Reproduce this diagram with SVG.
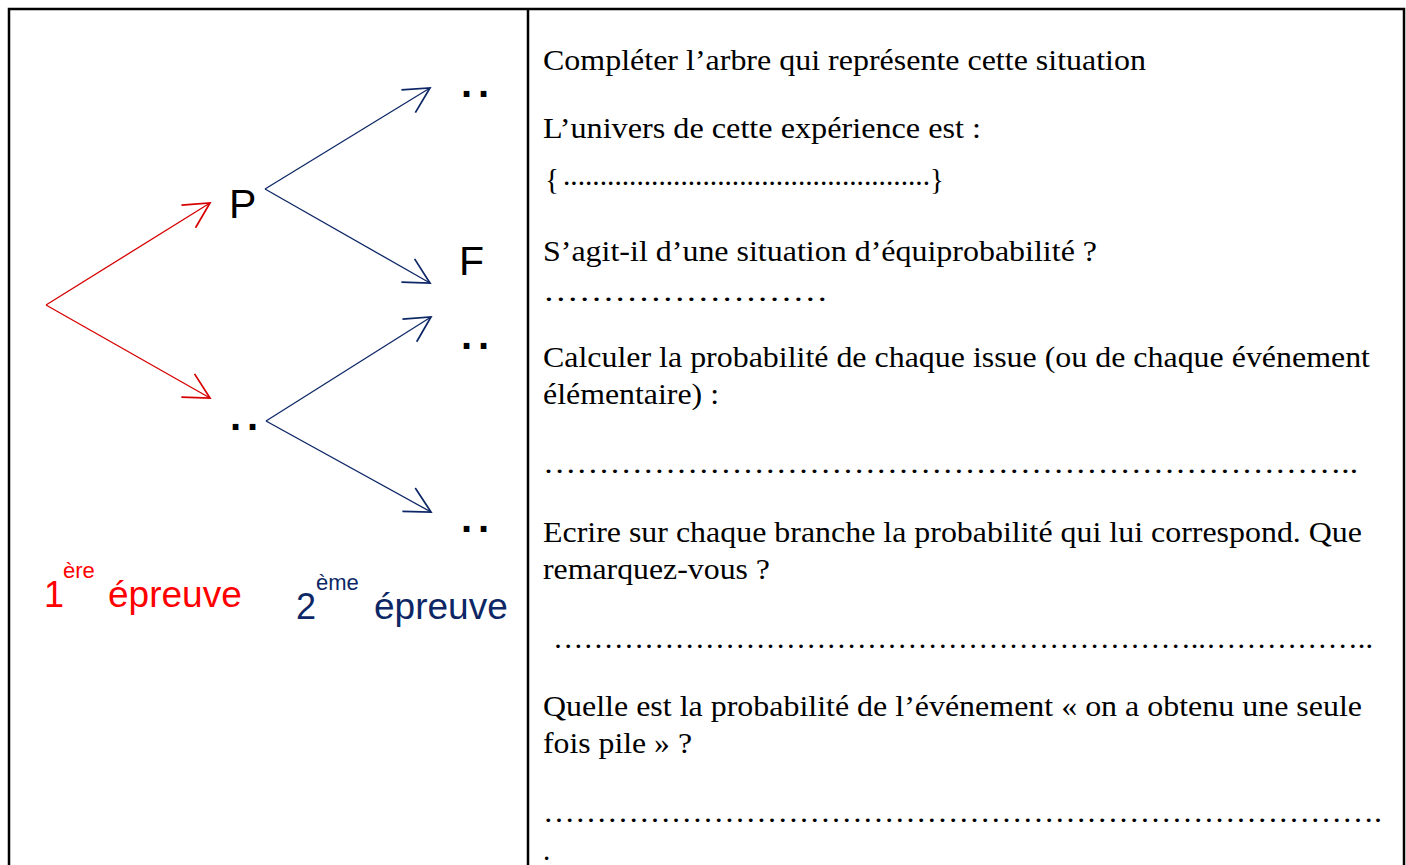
<svg xmlns="http://www.w3.org/2000/svg" width="1406" height="865" viewBox="0 0 1406 865">
<style>
.q{font-family:"Liberation Serif","Times New Roman",serif;font-size:29px;fill:#000}
.lbl{font-family:"Liberation Sans",Arial,sans-serif;font-size:41px;fill:#000}
.dd{font-family:"Liberation Sans",Arial,sans-serif;font-size:40px;font-weight:bold;fill:#000;letter-spacing:6px}
.red{font-family:"Liberation Sans",Arial,sans-serif;fill:#ff0000}
.blue{font-family:"Liberation Sans",Arial,sans-serif;fill:#0d2766}
.lr{stroke:#d60000;stroke-width:1.3;fill:none}
.lb{stroke:#0d2766;stroke-width:1.3;fill:none}
</style>
<defs>
<marker id="ar" markerUnits="userSpaceOnUse" orient="auto" refX="0" refY="0" markerWidth="40" markerHeight="40" viewBox="-25 -15 30 30" overflow="visible">
<path d="M-19,-10 L0,0 L-19,10" fill="none" stroke="#d60000" stroke-width="1.3"/>
</marker>
<marker id="ab" markerUnits="userSpaceOnUse" orient="auto" refX="0" refY="0" markerWidth="40" markerHeight="40" viewBox="-25 -15 30 30" overflow="visible">
<path d="M-19,-10 L0,0 L-19,10" fill="none" stroke="#0d2766" stroke-width="1.3"/>
</marker>
</defs>
<rect x="0" y="0" width="1406" height="865" fill="#fff"/>
<g id="frame" fill="none" stroke="#000" stroke-width="2.5">
<rect x="9" y="9" width="1395" height="900"/>
<line x1="528" y1="9" x2="528" y2="865"/>
</g>
<g id="connectors">
<line class="lr" x1="46" y1="305" x2="210" y2="203" marker-end="url(#ar)"/>
<line class="lr" x1="46" y1="305" x2="210" y2="398" marker-end="url(#ar)"/>
<line class="lb" x1="265" y1="189" x2="430" y2="88" marker-end="url(#ab)"/>
<line class="lb" x1="265" y1="189" x2="430" y2="283" marker-end="url(#ab)"/>
<line class="lb" x1="266" y1="421" x2="431" y2="317" marker-end="url(#ab)"/>
<line class="lb" x1="266" y1="421" x2="431" y2="512" marker-end="url(#ab)"/>
</g>
<g id="node-P"><text class="lbl" x="229" y="218">P</text></g>
<g id="node-n1"><text class="dd" x="230" y="430">..</text></g>
<g id="node-n2"><text class="dd" x="461" y="97">..</text></g>
<g id="node-F"><text class="lbl" x="459" y="275">F</text></g>
<g id="node-n3"><text class="dd" x="461" y="349">..</text></g>
<g id="node-n4"><text class="dd" x="461" y="532">..</text></g>
<g id="label-1">
<text class="red" x="44" y="607" font-size="36">1</text>
<text class="red" x="63" y="578" font-size="22">ère</text>
<text class="red" x="108" y="607" font-size="37">épreuve</text>
</g>
<g id="label-2">
<text class="blue" x="296" y="619" font-size="36">2</text>
<text class="blue" x="316" y="590" font-size="22">ème</text>
<text class="blue" x="374" y="619" font-size="37">épreuve</text>
</g>
<g id="questions">
<text class="q" x="543" y="70" textLength="603" lengthAdjust="spacingAndGlyphs">Compléter l’arbre qui représente cette situation</text>
<text class="q" x="543" y="138" textLength="438" lengthAdjust="spacingAndGlyphs">L’univers de cette expérience est :</text>
<text class="q" x="545" y="189" font-size="38">{</text>
<text class="q" x="563" y="185" font-size="24" textLength="367" lengthAdjust="spacingAndGlyphs">..................................................</text>
<text class="q" x="930" y="189" font-size="38">}</text>
<text class="q" x="543" y="261" textLength="554" lengthAdjust="spacingAndGlyphs">S’agit-il d’une situation d’équiprobabilité ?</text>
<text class="q" x="543" y="301" textLength="285" lengthAdjust="spacingAndGlyphs">……………………</text>
<text class="q" x="543" y="367" textLength="827" lengthAdjust="spacingAndGlyphs">Calculer la probabilité de chaque issue (ou de chaque événement</text>
<text class="q" x="543" y="404" textLength="176" lengthAdjust="spacingAndGlyphs">élémentaire) :</text>
<text class="q" x="543" y="473" textLength="815" lengthAdjust="spacingAndGlyphs">………………………………………………………………..</text>
<text class="q" x="543" y="542" textLength="819" lengthAdjust="spacingAndGlyphs">Ecrire sur chaque branche la probabilité qui lui correspond. Que</text>
<text class="q" x="543" y="579" textLength="227" lengthAdjust="spacingAndGlyphs">remarquez-vous ?</text>
<text class="q" x="553" y="648" textLength="820" lengthAdjust="spacingAndGlyphs">………………………………………………………..……………..</text>
<text class="q" x="543" y="716" textLength="819" lengthAdjust="spacingAndGlyphs">Quelle est la probabilité de l’événement « on a obtenu une seule</text>
<text class="q" x="543" y="753" textLength="149" lengthAdjust="spacingAndGlyphs">fois pile » ?</text>
<text class="q" x="543" y="822" textLength="839" lengthAdjust="spacingAndGlyphs">…………………………………………………………………….</text>
<text class="q" x="543" y="860">.</text>
</g>
</svg>
